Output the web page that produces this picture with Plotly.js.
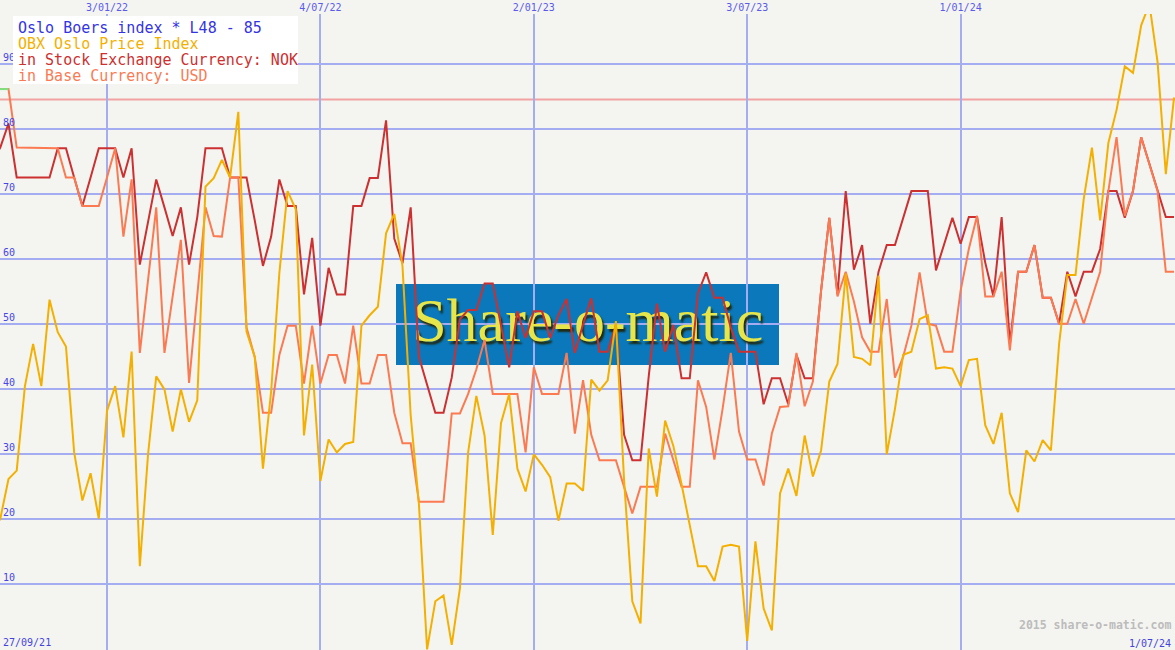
<!DOCTYPE html>
<html>
<head>
<meta charset="utf-8">
<script src="https://cdn.plot.ly/plotly-3.0.1.min.js"></script>
<style>
html,body{margin:0;padding:0;background:#f4f5f1;}
#chart{width:1175px;height:650px;}
</style>
</head>
<body>
<div id="chart"></div>
<script>
// ---- data (weekly, Mondays from 27/09/21 to 1/07/24) ----
const firstWeek = '2021-09-27';
const weekCount = 145;

const obxPrice = [
  18, 20.1, 26.2, 27.5, 40.5, 47, 40.5, 53.8, 48.8, 46.6,
  30.3, 22.9, 27.1, 20.1, 36.7, 40.5, 32.6, 45.8, 12.8, 30,
  42, 40, 33.5, 40, 35, 38.3, 71.2, 72.5, 75.3, 72.6,
  82.7, 48.9, 45, 27.8, 39.7, 57.9, 70.5, 67.7, 32.9, 43.8,
  25.9, 32.3, 30.3, 31.6, 31.9, 49.8, 51.4, 52.7, 64, 67,
  59, 36, 22.4, 0, 7.4, 8.3, 0.7, 9.4, 30.3, 39,
  32.9, 17.6, 34.8, 39.3, 27.8, 24.3, 30, 28.4, 26.5, 19.8,
  25.5, 25.5, 24.4, 41.5, 39.8, 41.4, 50.5, 26, 7.4, 4,
  30.9, 23.5, 35.2, 31.3, 25.4, 19.3, 12.8, 12.8, 10.5, 15.8,
  16.1, 15.8, 1.3, 16.6, 6.3, 2.9, 24, 27.8, 23.6, 32.9,
  26.6, 30.6, 41.2, 43.9, 57.8, 45, 44.7, 43.7, 57.5, 30,
  37, 45.3, 45.8, 50.8, 51.4, 43.2, 43.4, 43.2, 40.5, 44.5,
  44.7, 34.5, 31.6, 36.4, 24, 21.1, 30.6, 28.9, 32.2, 30.6,
  47, 57.6, 57.6, 69.3, 77.2, 66, 77.9, 83, 89.7, 88.7,
  96, 99.3, 90.3, 73.1, 84.9
];

const inNOK = [
  75, 77.2, 80.9, 72.6, 72.6, 72.6, 72.6, 72.6, 77.1, 77.1,
  72.6, 68.2, 72.6, 77.1, 77.1, 77.1, 72.6, 77.1, 59.2, 66,
  72.3, 68, 63.6, 68, 59.2, 66.5, 77.1, 77.1, 77.1, 72.6,
  72.6, 72.6, 66, 59, 63.5, 72.3, 68.2, 68.2, 54.6, 63.3,
  49.8, 58.7, 54.6, 54.6, 68.2, 68.2, 72.5, 72.5, 81.4, 63.2,
  59.4, 68, 45, 40.6, 36.4, 36.4, 41.8, 50.8, 52.2, 52.2,
  56.3, 56.3, 50.1, 43.4, 52, 47.9, 52, 52, 47.9, 51.4,
  53.9, 45.6, 50, 54, 45.8, 45.8, 49.9, 33, 29.1, 29.1,
  42, 53.2, 45.8, 49.9, 41.7, 41.7, 54.8, 58, 54.1, 54.1,
  49.5, 45.8, 45.8, 45.8, 37.7, 41.7, 41.7, 37.7, 45.3, 41.7,
  41.7, 55.2, 66.4, 54.6, 70.5, 58.4, 62.2, 50.1, 58.1, 62.2,
  62.2, 66.4, 70.5, 70.5, 70.5, 58.3, 62.4, 66.4, 62.4, 66.5,
  66.5, 59.5, 54.3, 66.5, 47, 58.1, 58.1, 62.2, 54.1, 54.1,
  50.1, 58.1, 54.3, 58.1, 58.1, 61.6, 70.5, 70.5, 66.4, 70.5,
  78.8, 74.7, 70.5, 66.5, 66.5
];

const inUSD = [
  86.2, 86.2, 86.2, 77.2, 77.2, 77.2, 77.2, 77.2, 77.1, 72.6,
  72.6, 68.2, 68.2, 68.2, 72.6, 77.1, 63.5, 72.3, 45.6, 57,
  68, 45.6, 54, 63, 41, 55, 68, 63.6, 63.5, 72.6,
  72.6, 49.5, 45, 36.4, 36.4, 45.3, 49.8, 49.8, 40.9, 49.8,
  40.9, 45.3, 45.3, 40.9, 49.8, 40.9, 40.9, 45.3, 45.3, 36.4,
  31.7, 31.7, 22.7, 22.7, 22.7, 22.7, 36.3, 36.3, 39.3, 43.1,
  47.6, 39.3, 39.3, 39.3, 39.3, 30.3, 43.4, 39.3, 39.3, 39.3,
  45.6, 33.2, 41.4, 33, 29.1, 29.1, 29.1, 25, 20.9, 25,
  25, 25, 33.2, 29, 25, 25, 41.4, 37.3, 29.2, 37,
  45.6, 33.5, 29.2, 29.2, 25.2, 33.2, 37.3, 37.4, 45.6, 37.4,
  41.2, 55.2, 66.4, 54.3, 58.1, 53.5, 48, 45.8, 45.8, 53.9,
  41.8, 45, 49.8, 58, 50.1, 49.8, 45.8, 45.8, 55.2, 61.6,
  66.7, 54.3, 54.3, 58.1, 46, 58.1, 58.1, 62.2, 54.1, 54.1,
  50.1, 50.1, 53.9, 50.1, 54.1, 58.1, 70.5, 78.8, 66.7, 70.5,
  78.8, 74.7, 70.5, 58.1, 58.1
];

const startMarker = [86.2, 86.2, 86.2];
const referenceLevel = 84.6;

const gridDates = ['2022-01-03', '2022-07-04', '2023-01-02', '2023-07-03', '2024-01-01'];
const gridLabels = ['3/01/22', '4/07/22', '2/01/23', '3/07/23', '1/01/24'];
const levelTicks = [10, 20, 30, 40, 50, 60, 70, 80, 90];
const levelLabels = ['10', '20', '30', '40', '50', '60', '70', '80', '90'];

const titleLines = [
  'Oslo Boers index * L48 - 85',
  'OBX Oslo Price Index',
  'in Stock Exchange Currency: NOK',
  'in Base Currency: USD'
];
const startLabel = '27/09/21';
const endLabel = '1/07/24';
const creditText = '2015 share-o-matic.com';
const watermarkText = 'Share-o-matic';

// ---- build weekly dates ----
const weeks = [];
const t0 = Date.parse(firstWeek + 'T00:00:00Z');
for (let k = 0; k < weekCount; k++) {
  weeks.push(new Date(t0 + k * 7 * 86400000).toISOString().slice(0, 10));
}

const MONO = 'DejaVu Sans Mono, Liberation Mono, monospace';
const H = 650, TOP = 14;
const py = p => (H - p) / (H - TOP); // pixel row -> paper y

const COL_TITLE = '#3434e4';
const COL_OBX = '#f4b000';
const COL_NOK = '#cc3030';
const COL_USD = '#fb7a52';

const traces = [
  { x: ['2023-02-17'], y: [49.9], mode: 'text', text: [watermarkText],
    textfont: { family: 'Liberation Serif, DejaVu Serif, serif', size: 62, color: '#e6e64a',
                shadow: '2px 3px 2px #1f2b14' },
    hoverinfo: 'skip', showlegend: false },
  { x: weeks, y: inNOK, mode: 'lines', name: titleLines[2],
    line: { color: COL_NOK, width: 2 } },
  { x: weeks, y: inUSD, mode: 'lines', name: titleLines[3],
    line: { color: COL_USD, width: 2 } },
  { x: weeks, y: obxPrice, mode: 'lines', name: titleLines[1],
    line: { color: COL_OBX, width: 2 } },
  { x: weeks.slice(0, startMarker.length), y: startMarker, mode: 'lines',
    line: { color: '#7ee07e', width: 2 }, showlegend: false }
];

const annotations = [];
const titleColors = [COL_TITLE, COL_OBX, COL_NOK, COL_USD];
const titleRows = [28, 44, 60, 76];
titleLines.forEach((t, i) => annotations.push({
  text: t, xref: 'paper', yref: 'paper', x: 16 / 1175, y: py(titleRows[i]),
  xanchor: 'left', yanchor: 'middle', showarrow: false,
  font: { family: MONO, size: 15, color: titleColors[i] }
}));
annotations.push({ text: startLabel, xref: 'paper', yref: 'paper', x: 1 / 1175, y: py(642),
  xanchor: 'left', yanchor: 'middle', showarrow: false,
  font: { family: MONO, size: 10, color: '#4444dd' } });
annotations.push({ text: endLabel, xref: 'paper', yref: 'paper', x: 1173 / 1175, y: py(643),
  xanchor: 'right', yanchor: 'middle', showarrow: false,
  font: { family: MONO, size: 10, color: '#4444dd' } });
annotations.push({ text: '<b>' + creditText + '</b>', xref: 'paper', yref: 'paper', x: 1173 / 1175, y: py(625),
  xanchor: 'right', yanchor: 'middle', showarrow: false,
  font: { family: MONO, size: 11.5, color: '#bcbcbc' } });

const layout = {
  width: 1175, height: 650,
  margin: { l: 0, r: 0, t: TOP, b: 0, pad: 0 },
  paper_bgcolor: '#f4f5f1', plot_bgcolor: '#f4f5f1',
  showlegend: false, hovermode: false,
  xaxis: {
    type: 'date', range: ['2021-10-03 18:00', '2024-07-01 20:00'],
    side: 'top', tickmode: 'array', tickvals: gridDates, ticktext: gridLabels,
    ticks: '', showline: false, zeroline: false,
    showgrid: true, gridcolor: '#a4acf2', gridwidth: 2,
    tickfont: { family: MONO, size: 10, color: '#5a5aec' }, fixedrange: true
  },
  yaxis: {
    range: [-0.1, 97.75], tickmode: 'array', tickvals: levelTicks, ticktext: levelLabels,
    ticklabelposition: 'inside top', ticks: '', showline: false, zeroline: false,
    showgrid: true, gridcolor: '#a4acf2', gridwidth: 2,
    tickfont: { family: MONO, size: 10, color: '#4646e6' }, fixedrange: true
  },
  shapes: [
    { type: 'rect', layer: 'below', xref: 'paper', yref: 'paper',
      x0: 396 / 1175, x1: 779 / 1175, y0: py(365), y1: py(284),
      fillcolor: '#0a78ba', line: { width: 0 } },
    { type: 'line', layer: 'below', xref: 'paper', yref: 'y',
      x0: 0, x1: 1, y0: referenceLevel, y1: referenceLevel,
      line: { color: '#f2a2a2', width: 2 } },
    { type: 'rect', layer: 'above', xref: 'paper', yref: 'paper',
      x0: 13 / 1175, x1: 298 / 1175, y0: py(84), y1: py(16),
      fillcolor: '#ffffff', line: { width: 0 } }
  ],
  annotations: annotations
};

Plotly.newPlot('chart', traces, layout, { displayModeBar: false, staticPlot: true });
</script>
</body>
</html>
